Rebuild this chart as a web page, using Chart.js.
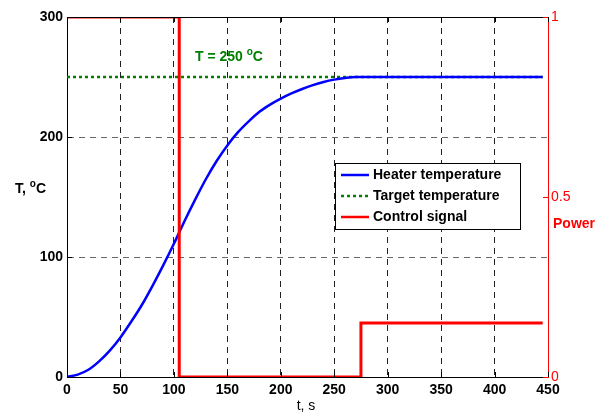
<!DOCTYPE html>
<html>
<head>
<meta charset="utf-8">
<script src="https://cdn.jsdelivr.net/npm/chart.js@4.4.0/dist/chart.umd.min.js"></script>
<style>
  html, body { margin: 0; padding: 0; background: #fff; }
  #wrap { width: 600px; height: 417px; }
</style>
</head>
<body>
<div id="wrap"><canvas id="chart" width="600" height="417"></canvas></div>
<script>
// --- DATA ---
const heaterTime = [0, 10, 20, 30, 40, 50, 60, 70, 80, 90, 100, 110, 120, 130, 140, 150, 160, 170, 180, 190, 200, 210, 220, 230, 240, 250, 260, 270, 300, 350, 400, 445];
const heaterTemp = [0, 2, 6, 13, 22, 33, 46, 60, 76, 93, 111, 130, 148, 165, 180, 193, 204, 213, 221, 227, 232, 236.3, 240, 243.2, 245.8, 247.8, 249.2, 250, 250, 250, 250, 250];
const targetTime = [0, 445];
const targetTemp = [250, 250];
const ctrlTime = [0, 105, 105, 275, 275, 445];
const ctrlPower = [1, 1, 0, 0, 0.15, 0.15];

const xTicks = [0, 50, 100, 150, 200, 250, 300, 350, 400, 450];
const tempTicks = [0, 100, 200, 300];
const powerTicks = [0, 0.5, 1];

const legendLabels = ['Heater temperature', 'Target temperature', 'Control signal'];

const FONT = "'Liberation Sans', Arial, sans-serif";
const BLUE = '#0000ff', GREEN = '#008000', RED = '#ff0000';

const toPoints = (xs, ys) => xs.map((x, i) => ({ x: x, y: ys[i] }));

// --- TEXT, FRAME AND LEGEND PLUGIN ---
const decorations = {
    id: 'decorations',
    afterDatasetsDraw(chart) {
        const ctx = chart.ctx;
        const a = chart.chartArea;
        const sx = chart.scales.x, sy = chart.scales.y, sp = chart.scales.y1;
        ctx.save();

        // top frame line
        ctx.strokeStyle = '#000';
        ctx.lineWidth = 1;
        ctx.beginPath();
        ctx.moveTo(a.left, a.top + 0.5);
        ctx.lineTo(a.right, a.top + 0.5);
        ctx.stroke();

        // small inward tick marks
        xTicks.forEach(v => {
            const px = Math.round(sx.getPixelForValue(v)) + 0.5;
            ctx.beginPath();
            ctx.moveTo(px, a.bottom); ctx.lineTo(px, a.bottom - 5);
            ctx.moveTo(px, a.top); ctx.lineTo(px, a.top + 5);
            ctx.stroke();
        });
        tempTicks.forEach(v => {
            const py = Math.round(sy.getPixelForValue(v)) + 0.5;
            ctx.beginPath();
            ctx.moveTo(a.left, py); ctx.lineTo(a.left + 5, py);
            ctx.stroke();
        });
        ctx.strokeStyle = RED;
        powerTicks.forEach(v => {
            const py = Math.round(sp.getPixelForValue(v)) + 0.5;
            ctx.beginPath();
            ctx.moveTo(a.right, py); ctx.lineTo(a.right - 5, py);
            ctx.stroke();
        });

        // text with a raised small "o"
        const degText = (pre, post, x, y, color, size) => {
            ctx.fillStyle = color;
            ctx.textBaseline = 'middle';
            ctx.textAlign = 'left';
            ctx.font = 'bold ' + size + 'px ' + FONT;
            ctx.fillText(pre, x, y);
            let w = ctx.measureText(pre).width;
            ctx.font = 'bold ' + Math.round(size * 0.7) + 'px ' + FONT;
            ctx.fillText('o', x + w, y - size * 0.35);
            w += ctx.measureText('o').width;
            ctx.font = 'bold ' + size + 'px ' + FONT;
            ctx.fillText(post, x + w, y);
        };
        degText('T = 250 ', 'C', 195, 57, GREEN, 14);
        degText('T, ', 'C', 15, 189, '#000', 14);

        ctx.fillStyle = RED;
        ctx.font = 'bold 14px ' + FONT;
        ctx.textAlign = 'left';
        ctx.fillText('Power', 553, 224);

        ctx.fillStyle = '#000';
        ctx.font = '14px ' + FONT;
        ctx.textAlign = 'center';
        ctx.fillText('t, s', 306, 406);

        // legend box
        const lx = 335, ly = 163, lw = 185, lh = 66;
        ctx.fillStyle = '#fff';
        ctx.fillRect(lx, ly, lw, lh);
        ctx.strokeStyle = '#000';
        ctx.lineWidth = 1;
        ctx.strokeRect(lx + 0.5, ly + 0.5, lw, lh);
        const colors = [BLUE, GREEN, RED];
        const dashes = [[], [3, 3], []];
        legendLabels.forEach((label, i) => {
            const y = 175 + i * 21;
            ctx.strokeStyle = colors[i];
            ctx.lineWidth = 2.5;
            ctx.setLineDash(dashes[i]);
            ctx.beginPath();
            ctx.moveTo(341, y); ctx.lineTo(369, y);
            ctx.stroke();
            ctx.setLineDash([]);
            ctx.fillStyle = '#000';
            ctx.font = 'bold 14px ' + FONT;
            ctx.textAlign = 'left';
            ctx.textBaseline = 'middle';
            ctx.fillText(label, 373, y);
        });

        ctx.restore();
    }
};

const hideEdges = (edges, color) => c => edges.includes(c.tick.value) ? 'rgba(0,0,0,0)' : color;

new Chart(document.getElementById('chart').getContext('2d'), {
    type: 'line',
    data: {
        datasets: [
            { label: legendLabels[0], data: toPoints(heaterTime, heaterTemp), borderColor: BLUE, borderWidth: 2.5, pointRadius: 0, cubicInterpolationMode: 'monotone', yAxisID: 'y', order: 1 },
            { label: legendLabels[1], data: toPoints(targetTime, targetTemp), borderColor: GREEN, borderWidth: 2.5, borderDash: [3, 3], pointRadius: 0, yAxisID: 'y', order: 2 },
            { label: legendLabels[2], data: toPoints(ctrlTime, ctrlPower), borderColor: RED, borderWidth: 3, pointRadius: 0, tension: 0, yAxisID: 'y1', order: 0 }
        ]
    },
    options: {
        responsive: false,
        animation: false,
        layout: { padding: { top: 17, left: 0, right: 0, bottom: 0 } },
        plugins: { legend: { display: false }, tooltip: { enabled: false } },
        scales: {
            x: {
                type: 'linear', min: 0, max: 450,
                afterBuildTicks: s => { s.ticks = xTicks.map(v => ({ value: v })); },
                afterFit: s => { s.height = 40; },
                grid: { color: hideEdges([0, 450], '#222'), drawTicks: false },
                border: { color: '#000', width: 1, dash: [6, 5] },
                ticks: { padding: 5, color: '#000', font: { family: FONT, size: 14, weight: 'bold' } }
            },
            y: {
                position: 'left', min: 0, max: 300,
                afterBuildTicks: s => { s.ticks = tempTicks.map(v => ({ value: v })); },
                afterFit: s => { s.width = 67; },
                grid: { color: hideEdges([0, 300], '#666'), drawTicks: false },
                border: { color: '#000', width: 1, dash: [6, 5] },
                ticks: { padding: 4, color: '#000', font: { family: FONT, size: 14, weight: 'bold' } }
            },
            y1: {
                position: 'right', min: 0, max: 1,
                afterBuildTicks: s => { s.ticks = powerTicks.map(v => ({ value: v })); },
                afterFit: s => { s.width = 52; },
                grid: { display: false, drawTicks: false },
                border: { color: RED, width: 1 },
                ticks: { padding: 3, color: RED, font: { family: FONT, size: 14 }, callback: v => String(v) }
            }
        }
    },
    plugins: [decorations]
});
</script>
</body>
</html>
